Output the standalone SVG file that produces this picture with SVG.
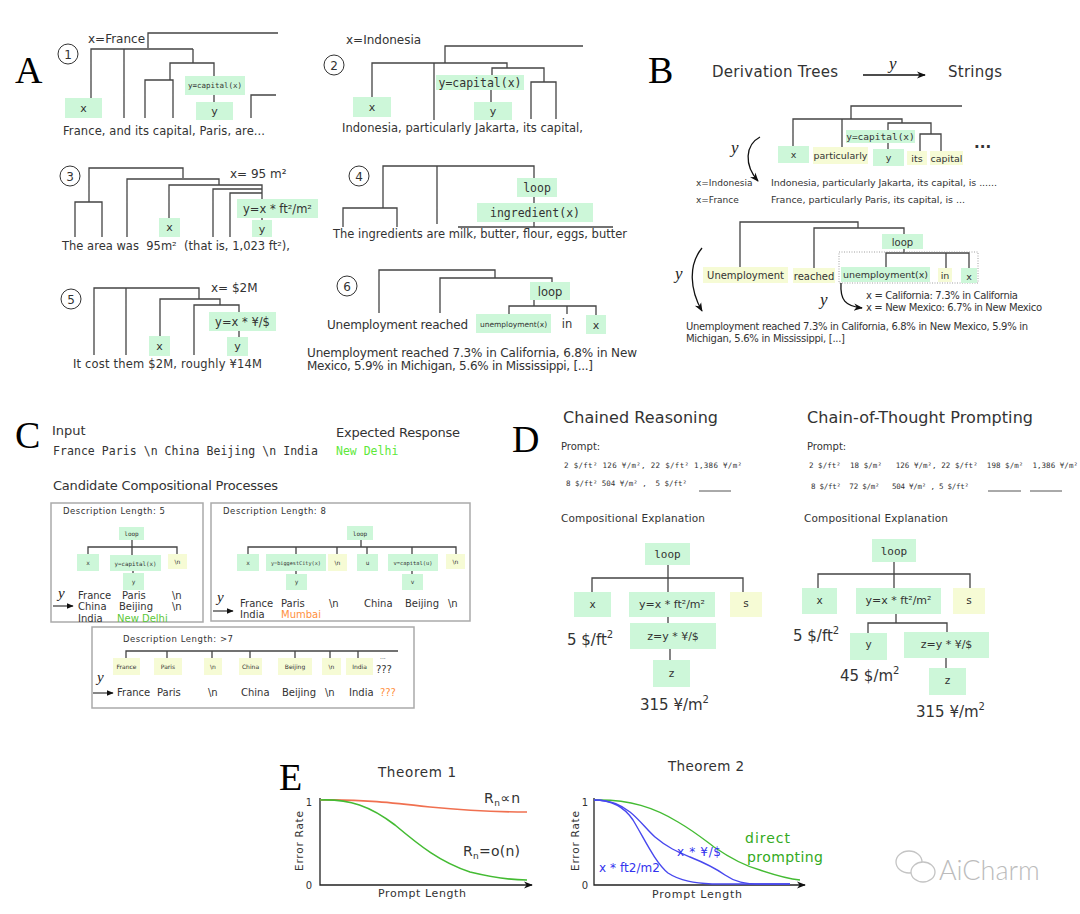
<svg xmlns="http://www.w3.org/2000/svg" width="1080" height="914" viewBox="0 0 1080 914">
<style>
.t{font-family:"DejaVu Sans",sans-serif;fill:#333}
.m{font-family:"DejaVu Sans Mono",monospace;fill:#333}
.c{text-anchor:middle}
.big{font-family:"Liberation Serif",serif;font-size:38px;fill:#000}
.sy{font-family:"Liberation Serif",serif;font-style:italic;fill:#222}
.g{fill:#cdf7d9}
.yb{fill:#f6fbd5}
.ln{stroke:#444;stroke-width:1.3;fill:none}
.cr{fill:#fff;stroke:#333;stroke-width:1}
.bx{fill:#fff;stroke:#aaa;stroke-width:1.5}
.pre{white-space:pre}
</style>
<defs>
<marker id="ah" viewBox="0 0 10 10" refX="9" refY="5" markerWidth="7" markerHeight="7" orient="auto" markerUnits="userSpaceOnUse"><path d="M0,1 L10,5 L0,9 z" fill="#111"/></marker>
<marker id="ah2" viewBox="0 0 10 10" refX="9" refY="5" markerWidth="9" markerHeight="9" orient="auto" markerUnits="userSpaceOnUse"><path d="M0,1 L10,5 L0,9 L3,5 z" fill="#111"/></marker>
</defs>
<rect width="1080" height="914" fill="#fff"/>

<!-- Panel labels -->
<text class="big" x="15" y="83">A</text>
<text class="big" x="648" y="83">B</text>
<text class="big" x="15" y="448">C</text>
<text class="big" x="512" y="452">D</text>
<text class="big" x="279" y="790" font-size="36">E</text>

<!-- A1 -->
<g id="A1">
<circle class="cr" cx="68" cy="54" r="10"/><text class="t c" x="68" y="58.5" font-size="12">1</text>
<text class="t" x="88" y="43" font-size="12">x=France</text>
<path class="ln" d="M148,48 V33 H278 M91,98 V49 H193 M124,49 V118 M193,49 V63 M170,80 V63 H214 V76 M145,118 V80 H173 V118 M214,95 V102 M251,118 V95 H276"/>
<rect class="g" x="65" y="98" width="37" height="20"/><text class="t c" x="83.5" y="112" font-size="11">x</text>
<rect class="g" x="185" y="76" width="60" height="19"/><text class="m c" x="215" y="88" font-size="7.5">y=capital(x)</text>
<rect class="g" x="196" y="102" width="37" height="18"/><text class="t c" x="214.5" y="115" font-size="11">y</text>
<text class="t" x="63" y="135" font-size="11.5" textLength="202">France, and its capital, Paris, are...</text>
</g>

<!-- A2 -->
<g id="A2">
<circle class="cr" cx="334" cy="65" r="10"/><text class="t c" x="334" y="69.5" font-size="12">2</text>
<text class="t" x="346" y="44" font-size="12">x=Indonesia</text>
<path class="ln" d="M445,63 V46 H583 M372,97 V63 H507 V68 M434,63 V120 M492,75 V68 H544 V82 M491,90 V102 M531,119 V82 H556 V119"/>
<rect class="g" x="353" y="97" width="38" height="20"/><text class="t c" x="372" y="111" font-size="11">x</text>
<rect class="g" x="436" y="75" width="88" height="15"/><text class="m c" x="480" y="86.5" font-size="11.5">y=capital(x)</text>
<rect class="g" x="474" y="102" width="38" height="18"/><text class="t c" x="493" y="115" font-size="11">y</text>
<text class="t" x="342" y="132" font-size="11.5" textLength="241">Indonesia, particularly Jakarta, its capital,</text>
</g>

<!-- A3 -->
<g id="A3">
<circle class="cr" cx="70" cy="176" r="10"/><text class="t c" x="70" y="180.5" font-size="12">3</text>
<path class="ln" d="M89,202 V168 H183 V178 M75,237 V202 H102 V237 M127,237 V179 H219 V185 M169,218 V185 H262 V199 M213,237 V189 H262 M230,237 V193 H262 M262,218 V220"/>
<text class="t" x="230" y="178" font-size="12">x= 95 m²</text>
<rect class="g" x="237" y="199" width="81" height="19"/><text class="t c" x="277.5" y="212.5" font-size="11.5">y=x * ft²/m²</text>
<rect class="g" x="159" y="218" width="21" height="19"/><text class="t c" x="169.5" y="231" font-size="11">x</text>
<rect class="g" x="252" y="220" width="20" height="17"/><text class="t c" x="262" y="232.5" font-size="11">y</text>
<text class="t pre" x="62" y="250" font-size="11.5" textLength="228">The area was  95m²  (that is, 1,023 ft²),</text>
</g>

<!-- A4 -->
<g id="A4">
<circle class="cr" cx="359" cy="176" r="10"/><text class="t c" x="359" y="180.5" font-size="12">4</text>
<path class="ln" d="M383,208 V166 H534 V178 M437,166 V224 M343,227 V208 H397 V227 M534,197 V203 M534,222 V227 M458,227 H613"/>
<rect class="g" x="517" y="178" width="40" height="19"/><text class="m c" x="537" y="191.5" font-size="11.5">loop</text>
<rect class="g" x="477" y="203" width="116" height="19"/><text class="m c" x="535" y="216.5" font-size="11.5">ingredient(x)</text>
<text class="t" x="333" y="238" font-size="11.5" textLength="294">The ingredients are milk, butter, flour, eggs, butter</text>
</g>

<!-- A5 -->
<g id="A5">
<circle class="cr" cx="71" cy="299" r="10"/><text class="t c" x="71" y="303.5" font-size="12">5</text>
<text class="t" x="211" y="292" font-size="12">x= $2M</text>
<path class="ln" d="M94,355 V288 H199 V299 M126,288 V355 M160,336 V299 H220 V305 M194,355 V305 H239 V312 M239,331 V337"/>
<rect class="g" x="209" y="312" width="67" height="19"/><text class="t c" x="242.5" y="325.5" font-size="11.5">y=x * ¥/$</text>
<rect class="g" x="227" y="337" width="21" height="19"/><text class="t c" x="237.5" y="350" font-size="11">y</text>
<rect class="g" x="149" y="336" width="21" height="20"/><text class="t c" x="159.5" y="350" font-size="11">x</text>
<text class="t" x="73" y="368" font-size="11.5" textLength="189">It cost them $2M, roughly ¥14M</text>
</g>

<!-- A6 -->
<g id="A6">
<circle class="cr" cx="347" cy="286" r="10"/><text class="t c" x="347" y="290.5" font-size="12">6</text>
<path class="ln" d="M379,313 V270 H495 V278 M440,313 V278 H552 V282 M534,300 V306 M509,314 V306 H596 V315 M567,306 V314"/>
<rect class="g" x="530" y="282" width="40" height="18"/><text class="t c" x="550" y="295.5" font-size="11.5">loop</text>
<rect class="g" x="476" y="314" width="75" height="19"/><text class="t c" x="513.5" y="327" font-size="7.5">unemployment(x)</text>
<text class="t c" x="567" y="328" font-size="11.5">in</text>
<rect class="g" x="586" y="315" width="20" height="19"/><text class="t c" x="596" y="329" font-size="11">x</text>
<text class="t" x="327" y="329" font-size="12" textLength="141">Unemployment reached</text>
<text class="t" x="307" y="357" font-size="12" textLength="330">Unemployment reached 7.3% in California, 6.8% in New</text>
<text class="t" x="307" y="370" font-size="12" textLength="286">Mexico, 5.9% in Michigan, 5.6% in Mississippi, [...]</text>
</g>

<!-- B -->
<g id="B-header">
<text class="t" x="712" y="77" font-size="15" textLength="126">Derivation Trees</text>
<text class="t" x="948" y="77" font-size="15" textLength="54">Strings</text>
<text class="sy" x="889" y="69" font-size="17">y</text>
</g>
<g id="B-tree1">
<path class="ln" d="M851,119 V106 H962 M793,146 V119 H902 V123 M842,119 V147 M888,131 V123 H931 V134 M920,151 V134 H941 V151 M888,143 V149"/>
<rect class="g" x="846" y="130" width="69" height="13"/><text class="m c" x="880.5" y="140" font-size="9.5">y=capital(x)</text>
<rect class="g" x="778" y="146" width="31" height="17"/><text class="t c" x="793.5" y="158" font-size="9.5">x</text>
<rect class="yb" x="813" y="147" width="55" height="17"/><text class="t c" x="840.5" y="159" font-size="9.5">particularly</text>
<rect class="g" x="873" y="149" width="31" height="17"/><text class="t c" x="888.5" y="161" font-size="9.5">y</text>
<rect class="yb" x="907" y="151" width="20" height="14"/><text class="t c" x="917" y="162" font-size="9.5">its</text>
<rect class="yb" x="930" y="151" width="33" height="14"/><text class="t c" x="946.5" y="162" font-size="9.5">capital</text>
<text class="t" x="974" y="148" font-size="15" font-weight="bold">...</text>
<text class="sy" x="731" y="153" font-size="17">y</text>
<text class="t" x="696" y="186" font-size="9">x=Indonesia</text>
<text class="t" x="696" y="203" font-size="9">x=France</text>
<text class="t" x="771" y="186" font-size="9.5" textLength="226">Indonesia, particularly Jakarta, its capital, is ......</text>
<text class="t" x="771" y="203" font-size="9.5" textLength="194">France, particularly Paris, its capital, is ...</text>
</g>
<g id="B-tree2">
<path class="ln" d="M740,267 V222 H858 V228 M814,268 V228 H904 V234 M904,249 V253 M886,267 V253 H969 V268 M946,253 V268"/>
<rect class="g" x="882" y="234" width="41" height="15"/><text class="t c" x="902.5" y="245.5" font-size="10">loop</text>
<rect x="839" y="252" width="139" height="31" fill="none" stroke="#888" stroke-width="0.8" stroke-dasharray="1,1.5"/>
<rect class="yb" x="703" y="267" width="85" height="16"/><text class="t c" x="745.5" y="279" font-size="10">Unemployment</text>
<rect class="yb" x="793" y="268" width="42" height="15"/><text class="t c" x="814" y="279.5" font-size="10">reached</text>
<rect class="g" x="841" y="267" width="89" height="15"/><text class="t c" x="885.5" y="278" font-size="9.5">unemployment(x)</text>
<rect class="yb" x="938" y="268" width="14" height="14"/><text class="t c" x="945" y="279" font-size="9.5">in</text>
<rect class="g" x="961" y="268" width="16" height="15"/><text class="t c" x="969" y="280" font-size="9.5">x</text>
<text class="sy" x="675" y="279" font-size="17">y</text>
<text class="sy" x="820" y="305" font-size="17">y</text>
<text class="t" x="866" y="299" font-size="10" textLength="152">x = California: 7.3% in California</text>
<text class="t" x="866" y="311" font-size="10" textLength="176">x = New Mexico: 6.7% in New Mexico</text>
<text class="t" x="686" y="330" font-size="10" textLength="342">Unemployment reached 7.3% in California, 6.8% in New Mexico, 5.9% in</text>
<text class="t" x="686" y="342" font-size="10" textLength="159">Michigan, 5.6% in Mississippi, [...]</text>
</g>

<!-- C -->
<g id="C-header">
<text class="t" x="52" y="435" font-size="13">Input</text>
<text class="m" x="53" y="455" font-size="11.5" textLength="265">France Paris \n China Beijing \n India</text>
<text class="t" x="336" y="437" font-size="13" textLength="124">Expected Response</text>
<text class="m" x="336" y="455" font-size="11.5" style="fill:#5ee83a">New Delhi</text>
<text class="t" x="53" y="490" font-size="13" textLength="225">Candidate Compositional Processes</text>
</g>
<g id="C-box1">
<rect class="bx" x="51" y="503" width="152" height="119"/>
<text class="t" x="63" y="514" font-size="8.5" textLength="102">Description Length: 5</text>
<path class="ln" d="M132,540 V555 M88,554 V547 H177 V554 M133,571 V573" stroke-width="1"/>
<rect class="g" x="119" y="527" width="25" height="13"/><text class="m c" x="131.5" y="536" font-size="6">loop</text>
<rect class="g" x="77" y="554" width="22" height="17"/><text class="m c" x="88" y="565" font-size="6">x</text>
<rect class="g" x="110" y="555" width="51" height="16"/><text class="m c" x="135.5" y="566" font-size="5.8">y=capital(x)</text>
<rect class="yb" x="168" y="554" width="19" height="15"/><text class="t c" x="177.5" y="564" font-size="6">\n</text>
<rect class="g" x="123" y="573" width="21" height="17"/><text class="m c" x="133.5" y="584" font-size="6">y</text>
<text class="sy" x="58" y="598" font-size="15">y</text>
<path class="ln" d="M53,606 H73" marker-end="url(#ah)" stroke-width="1"/>
<text class="t" x="78" y="599" font-size="10">France</text><text class="t" x="122" y="599" font-size="10">Paris</text><text class="t" x="172" y="599" font-size="10">\n</text>
<text class="t" x="78" y="610" font-size="10">China</text><text class="t" x="119" y="610" font-size="10">Beijing</text><text class="t" x="172" y="610" font-size="10">\n</text>
<text class="t" x="78" y="622" font-size="10">India</text><text class="t" x="117" y="622" font-size="10" style="fill:#5cc83a">New Delhi</text>
</g>
<g id="C-box2">
<rect class="bx" x="211" y="503" width="259" height="118"/>
<text class="t" x="223" y="514" font-size="8.5" textLength="103">Description Length: 8</text>
<path class="ln" d="M361,540 V547 M248,554 V547 H456 V554 M296,547 V554 M337,547 V554 M367,547 V554 M412,547 V554 M296,571 V574 M412,571 V574" stroke-width="1"/>
<rect class="g" x="347" y="526" width="26" height="14"/><text class="m c" x="360" y="536" font-size="6">loop</text>
<rect class="g" x="237" y="554" width="22" height="17"/><text class="m c" x="248" y="565" font-size="6">x</text>
<rect class="g" x="266" y="554" width="60" height="17"/><text class="m c" x="296" y="565" font-size="5.2">y=biggestCity(x)</text>
<rect class="yb" x="328" y="554" width="19" height="17"/><text class="t c" x="337.5" y="565" font-size="6">\n</text>
<rect class="g" x="357" y="554" width="21" height="17"/><text class="m c" x="367.5" y="565" font-size="6">u</text>
<rect class="g" x="388" y="554" width="50" height="17"/><text class="m c" x="413" y="565" font-size="5.4">v=capital(u)</text>
<rect class="yb" x="446" y="554" width="19" height="15"/><text class="t c" x="455.5" y="564" font-size="6">\n</text>
<rect class="g" x="286" y="574" width="21" height="16"/><text class="m c" x="296.5" y="584" font-size="6">y</text>
<rect class="g" x="402" y="574" width="21" height="16"/><text class="m c" x="412.5" y="584" font-size="6">v</text>
<text class="sy" x="217" y="602" font-size="15">y</text>
<path class="ln" d="M213,611 H233" marker-end="url(#ah)" stroke-width="1"/>
<text class="t" x="240" y="607" font-size="10">France</text><text class="t" x="281" y="607" font-size="10">Paris</text><text class="t" x="329" y="607" font-size="10">\n</text><text class="t" x="364" y="607" font-size="10">China</text><text class="t" x="405" y="607" font-size="10">Beijing</text><text class="t" x="448" y="607" font-size="10">\n</text>
<text class="t" x="240" y="618" font-size="10">India</text><text class="t" x="281" y="618" font-size="10" style="fill:#ff9040">Mumbai</text>
</g>
<g id="C-box3">
<rect class="bx" x="92" y="627" width="322" height="81"/>
<text class="t" x="123" y="642" font-size="8.5" textLength="110">Description Length: &gt;7</text>
<path class="ln" d="M126,658 V651 H398 M167,651 V658 M212,651 V658 M250,651 V658 M295,651 V658 M330,651 V658 M358,651 V658" stroke-width="1"/>
<rect class="yb" x="113" y="658" width="27" height="17"/><text class="t c" x="126.5" y="669" font-size="6">France</text>
<rect class="yb" x="154" y="658" width="28" height="17"/><text class="t c" x="168" y="669" font-size="6">Paris</text>
<rect class="yb" x="204" y="658" width="18" height="17"/><text class="t c" x="213" y="669" font-size="6">\n</text>
<rect class="yb" x="239" y="658" width="23" height="17"/><text class="t c" x="250.5" y="669" font-size="6">China</text>
<rect class="yb" x="278" y="658" width="34" height="17"/><text class="t c" x="295" y="669" font-size="6">Beijing</text>
<rect class="yb" x="322" y="658" width="19" height="17"/><text class="t c" x="331.5" y="669" font-size="6">\n</text>
<rect class="yb" x="346" y="658" width="27" height="17"/><text class="t c" x="359.5" y="669" font-size="6">India</text>
<text class="t" x="380" y="659" font-size="6">...</text>
<text class="t" x="376" y="673" font-size="10">???</text>
<text class="sy" x="97" y="682" font-size="15">y</text>
<path class="ln" d="M93,693 H113" marker-end="url(#ah)" stroke-width="1"/>
<text class="t" x="117" y="696" font-size="10">France</text><text class="t" x="157" y="696" font-size="10">Paris</text><text class="t" x="208" y="696" font-size="10">\n</text><text class="t" x="241" y="696" font-size="10">China</text><text class="t" x="282" y="696" font-size="10">Beijing</text><text class="t" x="325" y="696" font-size="10">\n</text><text class="t" x="349" y="696" font-size="10">India</text><text class="t" x="380" y="696" font-size="10" style="fill:#ff9040">???</text>
</g>

<!-- D left -->
<g id="D-left">
<text class="t" x="563" y="423" font-size="16" textLength="155">Chained Reasoning</text>
<text class="t" x="561" y="450" font-size="10">Prompt:</text>
<text class="m" x="564" y="468" font-size="7.5" textLength="178">2 $/ft² 126 ¥/m², 22 $/ft² 1,386 ¥/m²</text>
<text class="m pre" x="566" y="486" font-size="7.5" textLength="121">8 $/ft² 504 ¥/m² ,  5 $/ft²</text>
<path d="M699,491 H731" stroke="#555" stroke-width="1"/>
<text class="t" x="561" y="522" font-size="10.5" textLength="144">Compositional Explanation</text>
<path class="ln" d="M668,565 V592 M592,592 V578 H743 V592 M668,617 V623 M670,649 V660"/>
<rect class="g" x="645" y="543" width="45" height="22"/><text class="m c" x="667.5" y="558" font-size="11">loop</text>
<rect class="g" x="574" y="592" width="37" height="25"/><text class="t c" x="592.5" y="608" font-size="10.5">x</text>
<rect class="g" x="629" y="592" width="86" height="25"/><text class="t c" x="672" y="608" font-size="11">y=x * ft²/m²</text>
<rect class="yb" x="730" y="592" width="32" height="25"/><text class="t c" x="746" y="607" font-size="10.5">s</text>
<rect class="g" x="630" y="623" width="86" height="26"/><text class="t c" x="673" y="640" font-size="11">z=y * ¥/$</text>
<rect class="g" x="653" y="660" width="37" height="27"/><text class="t c" x="671.5" y="677" font-size="10.5">z</text>
<text class="t" x="567" y="645" font-size="15">5 $/ft<tspan font-size="10" dy="-7">2</tspan></text>
<text class="t" x="640" y="710" font-size="15">315 ¥/m<tspan font-size="10" dy="-7">2</tspan></text>
</g>

<!-- D right -->
<g id="D-right">
<text class="t" x="807" y="423" font-size="16" textLength="226">Chain-of-Thought Prompting</text>
<text class="t" x="807" y="450" font-size="10">Prompt:</text>
<text class="m pre" x="809" y="468" font-size="7.5" textLength="269">2 $/ft²  18 $/m²   126 ¥/m², 22 $/ft²  198 $/m²  1,386 ¥/m²</text>
<text class="m pre" x="811" y="489" font-size="7.5" textLength="158">8 $/ft²  72 $/m²   504 ¥/m² , 5 $/ft²</text>
<path d="M988,491 H1021 M1030,491 H1062" stroke="#555" stroke-width="1"/>
<text class="t" x="804" y="522" font-size="10.5" textLength="144">Compositional Explanation</text>
<path class="ln" d="M894,562 V588 M818,588 V574 H970 V588 M896,614 V623 M868,633 V623 H947 V632 M946,658 V668"/>
<rect class="g" x="872" y="539" width="44" height="23"/><text class="m c" x="894" y="555" font-size="11">loop</text>
<rect class="g" x="802" y="588" width="35" height="26"/><text class="t c" x="819.5" y="604" font-size="10.5">x</text>
<rect class="g" x="856" y="588" width="85" height="26"/><text class="t c" x="898.5" y="604" font-size="11">y=x * ft²/m²</text>
<rect class="yb" x="953" y="588" width="32" height="26"/><text class="t c" x="969" y="604" font-size="10.5">s</text>
<rect class="g" x="850" y="633" width="37" height="27"/><text class="t c" x="868.5" y="648" font-size="10.5">y</text>
<rect class="g" x="904" y="632" width="85" height="26"/><text class="t c" x="946.5" y="648" font-size="11">z=y * ¥/$</text>
<rect class="g" x="929" y="668" width="37" height="27"/><text class="t c" x="947.5" y="684" font-size="10.5">z</text>
<text class="t" x="793" y="641" font-size="15">5 $/ft<tspan font-size="10" dy="-7">2</tspan></text>
<text class="t" x="840" y="681" font-size="15">45 $/m<tspan font-size="10" dy="-7">2</tspan></text>
<text class="t" x="916" y="717" font-size="15">315 ¥/m<tspan font-size="10" dy="-7">2</tspan></text>
</g>

<!-- E plots -->
<g id="E-plot1">
<text class="t" x="378" y="777" font-size="13.5" textLength="78">Theorem 1</text>
<path d="M320,798 V885 H532" fill="none" stroke="#222" stroke-width="1.3" marker-end="url(#ah2)"/>
<text class="t c" x="309" y="806" font-size="10">1</text>
<text class="t c" x="309" y="889" font-size="10">0</text>
<text class="t c" x="0" y="0" font-size="10.5" textLength="60" transform="translate(303,841) rotate(-90)">Error Rate</text>
<path d="M320,800 C360,799 395,803 430,807 C470,811 500,812 527,812" fill="none" stroke="#f07050" stroke-width="1.6"/>
<path d="M320,800 C350,799 370,806 395,825 C420,846 440,862 470,872 C495,878 510,880 527,880" fill="none" stroke="#44bb33" stroke-width="1.6"/>
<text class="t" x="484" y="803" font-size="14" textLength="36">R<tspan font-size="9" dy="3">n</tspan><tspan dy="-3">∝n</tspan></text>
<text class="t" x="463" y="856" font-size="14" textLength="57">R<tspan font-size="9" dy="3">n</tspan><tspan dy="-3">=o(n)</tspan></text>
<text class="t" x="378" y="897" font-size="11" textLength="88">Prompt Length</text>
</g>
<g id="E-plot2">
<text class="t" x="668" y="771" font-size="13.5" textLength="76">Theorem 2</text>
<path d="M594,798 V885 H805" fill="none" stroke="#222" stroke-width="1.3" marker-end="url(#ah2)"/>
<text class="t c" x="585" y="806" font-size="10">1</text>
<text class="t c" x="585" y="889" font-size="10">0</text>
<text class="t c" x="0" y="0" font-size="10.5" textLength="60" transform="translate(579,841) rotate(-90)">Error Rate</text>
<path d="M594,800 C630,799 655,808 678,822 C695,832 702,838 714,847 C730,858 745,866 760,870 C775,875 790,879 800,880" fill="none" stroke="#44bb33" stroke-width="1.4"/>
<path d="M594,800 C612,800 625,808 633,820 C645,840 655,862 668,873 C680,881 695,883 712,884 H790" fill="none" stroke="#4848ee" stroke-width="1.4"/>
<path d="M594,800 C612,800 622,806 630,812 C640,820 647,830 655,837 C668,848 678,852 690,857 C705,863 715,868 725,875 C735,882 745,884 760,884 H790" fill="none" stroke="#4848ee" stroke-width="1.4"/>
<text class="t" x="745" y="843" font-size="14" textLength="45" style="fill:#33aa22">direct</text>
<text class="t" x="747" y="862" font-size="14" textLength="76" style="fill:#33aa22">prompting</text>
<text class="t" x="677" y="856" font-size="12" textLength="44" style="fill:#3333ee">x * ¥/$</text>
<text class="t" x="599" y="872" font-size="12" textLength="61" style="fill:#3333ee">x * ft2/m2</text>
<text class="t" x="652" y="898" font-size="11" textLength="90">Prompt Length</text>
</g>

<!-- connectors (arrows) -->
<g id="connectors">
<path d="M863,75 H925" stroke="#111" stroke-width="1.3" fill="none" marker-end="url(#ah2)"/>
<path d="M760,137 C745,145 744,165 758,181" stroke="#111" stroke-width="1.3" fill="none" marker-end="url(#ah2)"/>
<path d="M702,248 C688,265 690,290 702,311" stroke="#111" stroke-width="1.3" fill="none" marker-end="url(#ah2)"/>
<path d="M841,283 C840,300 845,306 862,308" stroke="#111" stroke-width="1.3" fill="none" marker-end="url(#ah2)"/>
</g>

<!-- watermark -->
<g id="watermark">
<ellipse cx="909" cy="862" rx="13" ry="11" fill="#fff" stroke="#c4c4c4" stroke-width="1.3"/>
<ellipse cx="923" cy="872" rx="12" ry="10" fill="#fff" stroke="#c4c4c4" stroke-width="1.3"/>
<text x="939" y="880" font-family="Lato, sans-serif" font-weight="300" font-size="27" fill="#bcbcbc">AiCharm</text>
</g>
</svg>
